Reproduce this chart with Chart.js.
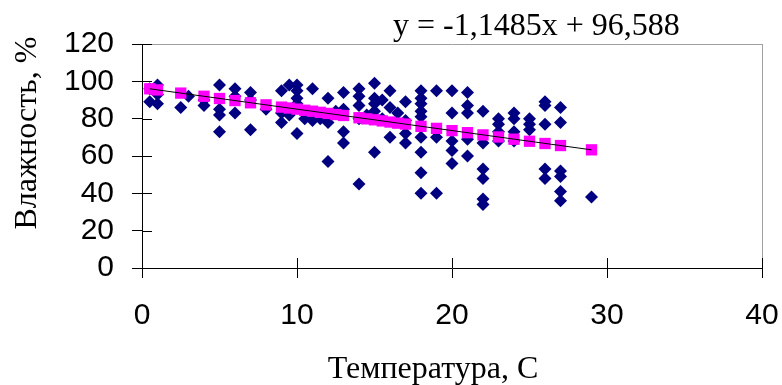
<!DOCTYPE html>
<html>
<head>
<meta charset="utf-8">
<script src="https://cdn.jsdelivr.net/npm/chart.js@4/dist/chart.umd.min.js"></script>
<style>
  html, body { margin: 0; padding: 0; background: #fff; }
  #wrap { position: relative; width: 782px; height: 385px; }
</style>
</head>
<body>
<div id="wrap"><canvas id="c" width="782" height="385"></canvas></div>
<script>
// Observed data: temperature (C) and humidity (%)
const tempC = [0.5,0.5,1,1,1,2.5,3,4,4,5,5,5,5,6,6,6,7,7,7,8,9,9,9,9.5,9.5,
  10,10,10,10,10,10.5,10.5,11,11,11,11.5,12,12,12,12,12.5,13,13,13,13,14,14,14,14,14,14.5,
  15,15,15,15,15,15.5,15.5,16,16,16,16.5,17,17,17,17,18,18,18,18,18,18,18,18,18,19,19,19,
  20,20,20,20,20,21,21,21,21,21,22,22,22,22,22,22,23,23,23,23,24,24,24,24,25,25,25,
  26,26,26,26,26,27,27,27,27,27,27,29];
const humidity = [96,89,98,93,88,86,92,87,90,98,85,82,73,96,92,83,94,90,74,85,95,83,78,98,82,
  98,95,91,88,72,84,80,96,82,79,80,91,82,78,57,84,94,85,73,67,96,92,87,80,45,82,
  99,91,88,84,62,90,80,95,86,70,83,89,79,72,67,95,91,88,84,81,70,62,51,40,95,70,40,
  95,83,68,63,56,94,87,83,69,60,84,67,53,48,37,34,80,77,73,68,83,80,73,68,80,77,74,
  89,87,77,53,48,86,78,52,49,41,36,38];
// Predicted humidity (regression)
const predTemp = [0.5,1,2.5,4,5,6,7,8,9,9.5,10,10.5,11,11.5,12,12.5,13,14,14.5,15,15.5,16,16.5,17,18,19,20,21,22,23,24,25,26,27,29];
const predHum = [96.0,95.4,93.7,92.0,90.8,89.7,88.5,87.4,86.2,85.7,85.1,84.5,84.0,83.4,82.8,82.2,81.7,80.5,79.9,79.4,78.8,78.2,77.6,77.1,75.9,74.8,73.6,72.5,71.3,70.2,69.0,67.9,66.7,65.6,63.3];
// Trend line end points
const trendTemp = [0.5, 29];
const trendHum = [96.0, 63.3];
// Axis ticks and texts
const xTicks = [0,10,20,30,40];
const yTicks = [0,20,40,60,80,100,120];
const equationText = 'y = -1,1485x + 96,588';
const xTitle = 'Температура, С';
const yTitle = 'Влажность, %';

const pts = (xs, ys) => xs.map((x, i) => ({x, y: ys[i]}));

const textPlugin = {
  id: 'texts',
  afterDraw(chart) {
    const ctx = chart.ctx;
    const xs = chart.scales.x, ys = chart.scales.y;
    const ca = chart.chartArea;
    ctx.save();
    // inner half of the crossing tick marks
    ctx.strokeStyle = '#000';
    ctx.lineWidth = 1;
    ctx.beginPath();
    yTicks.forEach(v => {
      const py = Math.round(ys.getPixelForValue(v)) + 0.5;
      ctx.moveTo(ca.left, py); ctx.lineTo(ca.left + 10, py);
    });
    xTicks.forEach(v => {
      const px = Math.round(xs.getPixelForValue(v)) + 0.5;
      ctx.moveTo(px, ca.bottom); ctx.lineTo(px, ca.bottom - 10);
    });
    ctx.stroke();
    ctx.fillStyle = '#000';
    ctx.font = '32px "Liberation Serif", "Times New Roman", serif';
    ctx.textAlign = 'left';
    ctx.textBaseline = 'alphabetic';
    ctx.fillText(equationText, 393, 35);
    ctx.textAlign = 'center';
    ctx.fillText(xTitle, 433, 378);
    ctx.translate(36, 133);
    ctx.rotate(-Math.PI / 2);
    ctx.fillText(yTitle, 0, 0);
    ctx.restore();
  }
};

new Chart(document.getElementById('c'), {
  type: 'scatter',
  data: {
    datasets: [
      {
        type: 'line',
        data: pts(trendTemp, trendHum),
        borderColor: '#000',
        borderWidth: 1,
        pointRadius: 0,
        fill: false,
        order: 0
      },
      {
        data: pts(predTemp, predHum),
        pointStyle: 'rect',
        pointRadius: 8,
        backgroundColor: '#ff00ff',
        borderColor: '#ff00ff',
        borderWidth: 0,
        order: 1
      },
      {
        data: pts(tempC, humidity),
        pointStyle: 'rectRot',
        pointRadius: 6.5,
        backgroundColor: '#000080',
        borderColor: '#000080',
        borderWidth: 0,
        order: 2
      }
    ]
  },
  options: {
    responsive: false,
    animation: false,
    events: [],
    layout: { autoPadding: false, padding: { left: 0, right: 20, top: 44, bottom: 0 } },
    plugins: { legend: { display: false }, tooltip: { enabled: false } },
    scales: {
      x: {
        type: 'linear',
        min: 0, max: 40,
        afterBuildTicks: s => { s.ticks = xTicks.map(v => ({value: v})); },
        afterFit: s => { s.height = 117; s.paddingLeft = 0; s.paddingRight = 0; },
        border: { color: '#000', width: 1 },
        grid: {
          color: c => (c.tick && c.tick.value === 40) ? '#a0a0a0' : 'rgba(0,0,0,0)',
          tickColor: '#000',
          tickLength: 10,
          drawTicks: true
        },
        ticks: {
          color: '#000',
          padding: 20,
          autoSkip: false,
          maxRotation: 0,
          font: { family: '"Liberation Sans", Arial, sans-serif', size: 30 }
        }
      },
      y: {
        type: 'linear',
        min: 0, max: 120,
        afterBuildTicks: s => { s.ticks = yTicks.map(v => ({value: v})); },
        afterFit: s => { s.width = 142; s.paddingTop = 0; s.paddingBottom = 0; },
        border: { color: '#000', width: 1 },
        grid: {
          color: c => (c.tick && c.tick.value === 120) ? '#a0a0a0' : 'rgba(0,0,0,0)',
          tickColor: '#000',
          tickLength: 10,
          drawTicks: true
        },
        ticks: {
          color: '#000',
          padding: 18,
          autoSkip: false,
          font: { family: '"Liberation Sans", Arial, sans-serif', size: 30 }
        }
      }
    }
  },
  plugins: [textPlugin]
});
</script>
</body>
</html>
